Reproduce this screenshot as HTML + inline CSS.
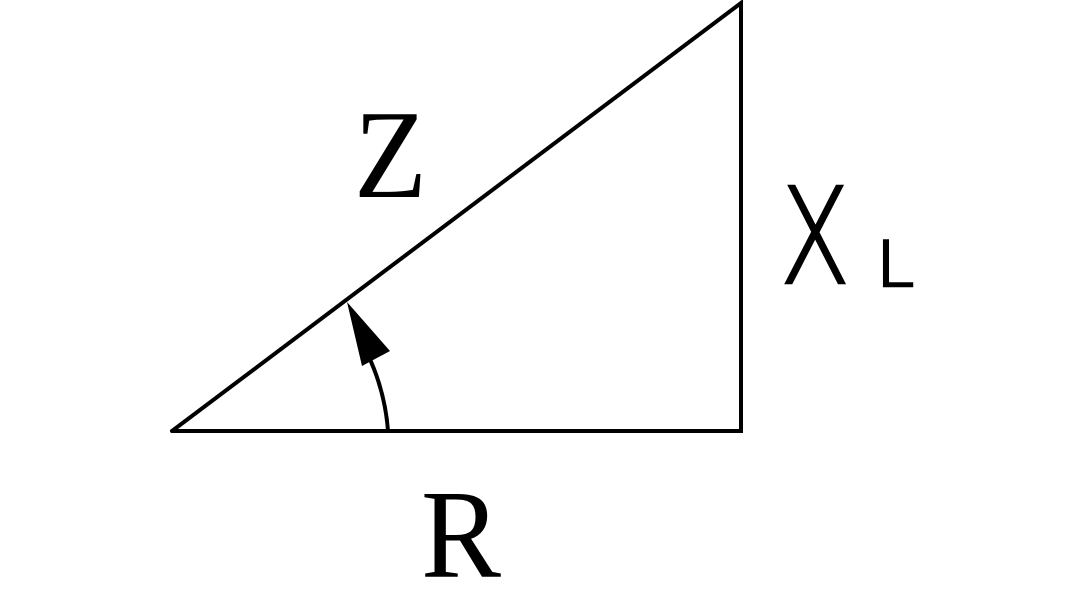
<!DOCTYPE html>
<html><head><style>html,body{margin:0;padding:0;background:#fff}
.s{font-family:"Liberation Serif","Times New Roman",serif}
.x{font-family:"DejaVu Sans",sans-serif;font-weight:200}</style></head>
<body>
<svg width="1083" height="607" xmlns="http://www.w3.org/2000/svg">
<g stroke="#000" stroke-width="4" fill="none" stroke-linecap="round">
<polyline points="172,431 741,431 741,3 172,431"/>
<path d="M388,431 A216,216 0 0 0 368,355"/>
</g>
<polygon points="347,302 390,351 362,366" fill="#000"/>
<text class="s" x="354" y="197" font-size="126" textLength="73" lengthAdjust="spacingAndGlyphs">Z</text>
<text class="s" x="421" y="577" font-size="126" textLength="80" lengthAdjust="spacingAndGlyphs">R</text>
<text class="x" x="780" y="283" font-size="133" textLength="70" lengthAdjust="spacingAndGlyphs" stroke="#000" stroke-width="2.5">X</text>
<text class="x" x="876" y="286" font-size="62" textLength="38" lengthAdjust="spacingAndGlyphs" stroke="#000" stroke-width="2.5">L</text>
</svg>
</body></html>
